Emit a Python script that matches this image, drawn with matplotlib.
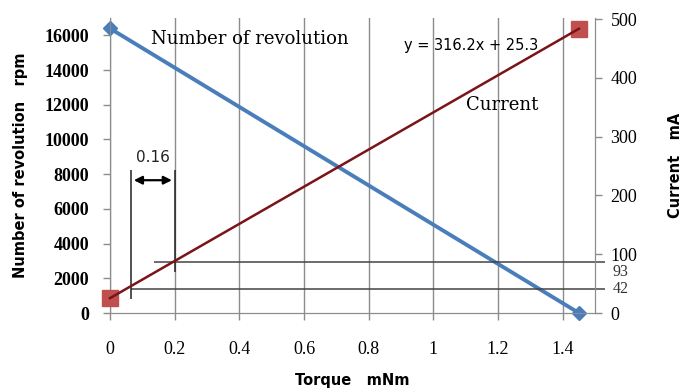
import matplotlib
matplotlib.use("Agg")
import matplotlib.pyplot as plt

# data
torque = [0, 1.45]
revolution = [16400, 0]          # rpm
current = [25.3, 316.2 * 1.45 + 25.3]  # mA, fitted line y = 316.2x + 25.3

ref_levels = [87, 41]            # mA, horizontal guide lines
ref_labels = ["93", "42"]
x_marks = [0.065, 0.2]           # torque guide lines
delta_text = "0.16"

fig = plt.figure(figsize=(6.92, 3.92), dpi=100)
ax = fig.add_axes([0.159, 0.2015, 0.701, 0.7525])
ax2 = ax.twinx()

grid_c = "#8c8c8c"
serif = "Liberation Serif"
sans = "DejaVu Sans"

# vertical grid lines
ax.set_xlim(0, 1.5)
ax.set_xticks([0, 0.2, 0.4, 0.6, 0.8, 1, 1.2, 1.4])
ax.set_xticklabels(["0", "0.2", "0.4", "0.6", "0.8", "1", "1.2", "1.4"],
                   fontfamily=serif, fontsize=13)
ax.grid(axis="x", color=grid_c, lw=1)
ax.set_ylim(0, 17000)
ax.set_yticks(range(0, 16001, 2000))
for lbl in ax.get_yticklabels():
    lbl.set_fontfamily(serif)
    lbl.set_fontweight("bold")
    lbl.set_fontsize(13)

ax2.set_ylim(0, 502)
ax2.set_yticks(range(0, 501, 100))
for lbl in ax2.get_yticklabels():
    lbl.set_fontfamily(serif)
    lbl.set_fontsize(13)

for a in (ax, ax2):
    a.spines["top"].set_visible(False)
    for s in ("left", "right", "bottom"):
        a.spines[s].set_color(grid_c)
    a.tick_params(direction="out", length=5, color=grid_c, width=1, pad=6)
ax.tick_params(axis="x", pad=15)
ax.tick_params(axis="y", pad=10)

# series
ax.plot(torque, revolution, color="#4a7ebb", lw=2.8, marker="D", ms=7,
        zorder=5, clip_on=False)
ax2.plot(torque, current, color="#7b1416", lw=1.8, zorder=4, clip_on=False)
ax2.plot(torque, current, ls="none", marker="s", ms=11, color="#c0504d",
         zorder=3, clip_on=False)

# guide lines
ax2.hlines(ref_levels[0], 0.137, 1.53, color="#444444", lw=1.1, clip_on=False)
ax2.hlines(ref_levels[1], x_marks[0], 1.53, color="#444444", lw=1.1, clip_on=False)
ax2.vlines(x_marks[0], 24, 243, color="#222222", lw=1.1)
ax2.vlines(x_marks[1], 70, 243, color="#222222", lw=1.1)
ax2.annotate("", xy=(x_marks[0], 226), xytext=(x_marks[1], 226),
             arrowprops=dict(arrowstyle="<|-|>", color="black", lw=1.6,
                             mutation_scale=12))
ax2.text(0.132, 252, delta_text, fontsize=11, fontfamily=sans,
         ha="center", va="bottom", color="#222222")
ax2.text(1.555, 84, ref_labels[0], fontsize=11.5, fontfamily=serif,
         va="top", color="#333333", clip_on=False)
ax2.text(1.555, ref_levels[1], ref_labels[1], fontsize=11.5, fontfamily=serif,
         va="center", color="#333333", clip_on=False)

# annotations
ax.text(0.126, 15800, "Number of revolution", fontfamily="DejaVu Serif",
        fontsize=13, va="center")
ax2.text(0.91, 455, "y = 316.2x + 25.3", fontfamily=sans, fontsize=10.5,
         va="center")
ax2.text(1.1, 354, "Current", fontfamily="DejaVu Serif", fontsize=13,
         va="center")

ax.set_xlabel("Torque   mNm", fontfamily=sans, fontweight="bold",
              fontsize=10.5, labelpad=11)
ax.set_ylabel("Number of revolution   rpm", fontfamily=sans,
              fontweight="bold", fontsize=10.5, labelpad=12)
ax2.set_ylabel("Current   mA", fontfamily=sans, fontweight="bold",
               fontsize=10.5, labelpad=22)

fig.savefig("out.png", dpi=100)
